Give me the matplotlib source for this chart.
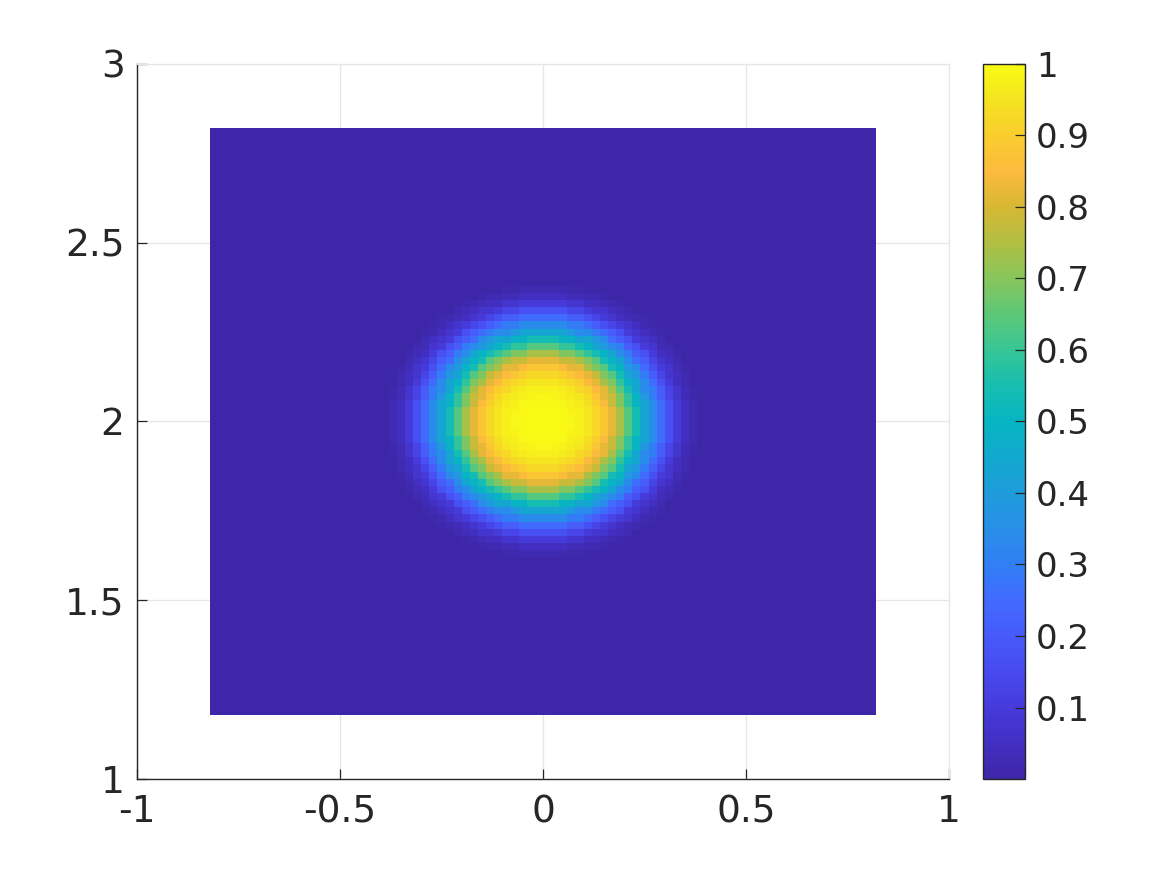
import numpy as np
import matplotlib

matplotlib.use("Agg")
import matplotlib.pyplot as plt
from matplotlib.colors import LinearSegmentedColormap

# grid of cells (edges), 0.02 spacing
x_edges = np.round(np.arange(-0.82, 0.8201, 0.02), 4)
y_edges = np.round(np.arange(1.18, 2.8201, 0.02), 4)
center_x, center_y = 0.0, 2.0

# radial profile, in half-cell steps (cell = 0.02)
profile_r = [0.0, 0.5, 1.0, 1.5, 2.0, 2.5, 3.0, 3.5, 4.0, 4.5,
             5.0, 5.5, 6.0, 6.5, 7.0, 7.5, 8.0, 8.5, 9.0, 9.5,
             10.0, 10.5, 11.0, 11.5, 12.0, 12.5, 13.0, 13.5, 14.0, 14.5,
             15.0, 15.5, 16.0, 16.5, 17.0, 17.5, 18.0, 18.5, 19.0, 19.5]
profile_vals = [1.0, 1.0, 1.0, 1.0, 1.0, 0.995, 0.993, 0.99, 0.983, 0.975,
                0.965, 0.955, 0.94, 0.925, 0.905, 0.88, 0.85, 0.82, 0.78, 0.74,
                0.69, 0.64, 0.59, 0.54, 0.49, 0.44, 0.39, 0.34, 0.295, 0.25,
                0.21, 0.17, 0.135, 0.10, 0.075, 0.05, 0.035, 0.02, 0.01, 0.0]

x_ticks = [-1, -0.5, 0, 0.5, 1]
y_ticks = [1, 1.5, 2, 2.5, 3]
cbar_ticks = [0.1, 0.2, 0.3, 0.4, 0.5, 0.6, 0.7, 0.8, 0.9, 1.0]

# parula-like colormap
parula_anchors = [
    (0.00, (0.2422, 0.1504, 0.6603)),
    (0.05, (0.2594, 0.1854, 0.7610)),
    (0.10, (0.2740, 0.2280, 0.8612)),
    (0.15, (0.2810, 0.2930, 0.9350)),
    (0.20, (0.2780, 0.3560, 0.9780)),
    (0.25, (0.2540, 0.4220, 0.9960)),
    (0.30, (0.1880, 0.4960, 0.9600)),
    (0.35, (0.1570, 0.5600, 0.9100)),
    (0.40, (0.1180, 0.6100, 0.8600)),
    (0.45, (0.0700, 0.6600, 0.8100)),
    (0.50, (0.0200, 0.7100, 0.7600)),
    (0.55, (0.0900, 0.7450, 0.6900)),
    (0.60, (0.2100, 0.7750, 0.5900)),
    (0.65, (0.3600, 0.7850, 0.4700)),
    (0.70, (0.5300, 0.7750, 0.3600)),
    (0.75, (0.6900, 0.7500, 0.2600)),
    (0.80, (0.8400, 0.7200, 0.2000)),
    (0.85, (0.9900, 0.7300, 0.2400)),
    (0.90, (0.9800, 0.8000, 0.1800)),
    (0.95, (0.9600, 0.8900, 0.1300)),
    (1.00, (0.9769, 0.9839, 0.0805)),
]
parula = LinearSegmentedColormap.from_list("parula", parula_anchors, N=256)

# build field: each cell takes the profile value at the nearest tabulated radius
xc = 0.5 * (x_edges[:-1] + x_edges[1:])
yc = 0.5 * (y_edges[:-1] + y_edges[1:])
X, Y = np.meshgrid(xc, yc)
r_cells = np.hypot(X - center_x, Y - center_y) / 0.02
ring_r = np.array(profile_r)
idx = np.abs(r_cells[..., None] - ring_r[None, None, :]).argmin(axis=-1)
Z = np.array(profile_vals)[idx]

text_color = "#262626"
grid_color = "#e6e6e6"
fs_ax = 27
fs_cb = 24.5

fig = plt.figure(figsize=(11.67, 8.75), dpi=100)
ax = fig.add_axes([0.1174, 0.1097, 0.6958, 0.8172])
mesh = ax.pcolormesh(x_edges, y_edges, Z, cmap=parula, vmin=0, vmax=1, shading="flat")

ax.set_xlim(-1, 1)
ax.set_ylim(1, 3)
ax.set_xticks(x_ticks)
ax.set_yticks(y_ticks)
ax.set_xticklabels([f"{v:g}" for v in x_ticks])
ax.set_yticklabels([f"{v:g}" for v in y_ticks])
ax.set_axisbelow(True)
ax.grid(True, color=grid_color, lw=0.9)
ax.tick_params(direction="in", length=7, width=0.9, colors=text_color,
               labelsize=fs_ax)
ax.tick_params(axis="x", pad=11)
ax.tick_params(axis="y", pad=9)
for side in ("left", "bottom"):
    ax.spines[side].set_color(text_color)
    ax.spines[side].set_linewidth(1.0)
for side in ("top", "right"):
    ax.spines[side].set_color(grid_color)
    ax.spines[side].set_linewidth(0.9)

cax = fig.add_axes([0.8423, 0.1097, 0.036, 0.8172])
cb = fig.colorbar(mesh, cax=cax, ticks=cbar_ticks)
cb.ax.set_yticklabels([f"{v:g}" for v in cbar_ticks])
cb.ax.tick_params(direction="in", length=7, width=0.9, colors=text_color,
                  labelsize=fs_cb, pad=8)
cb.outline.set_edgecolor(text_color)
cb.outline.set_linewidth(1.0)

fig.savefig("out.png", dpi=100)
